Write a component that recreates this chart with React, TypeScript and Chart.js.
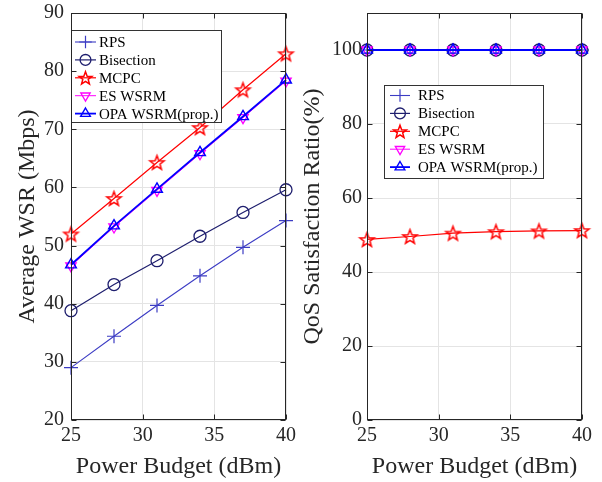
import React, { useEffect, useRef } from 'react';
import { Chart, registerables } from 'chart.js';

Chart.register(...registerables);

// ---------- data ----------
const xValues = [25, 28, 31, 34, 37, 40];
const seriesNames = ['RPS', 'Bisection', 'MCPC', 'ES WSRM', 'OPA WSRM(prop.)'];

const wsrRPS = [29.0, 34.4, 39.7, 44.8, 49.7, 54.3];
const wsrBisection = [38.8, 43.3, 47.4, 51.6, 55.7, 59.6];
const wsrMCPC = [52.0, 58.1, 64.3, 70.3, 76.8, 83.0];
const wsrES = [46.5, 53.2, 59.5, 65.8, 72.0, 78.3];
const wsrOPA = [46.7, 53.4, 59.7, 66.0, 72.2, 78.5];

const qosRPS = [100, 100, 100, 100, 100, 100];
const qosBisection = [100, 100, 100, 100, 100, 100];
const qosMCPC = [48.8, 49.6, 50.5, 50.9, 51.1, 51.2];
const qosES = [100, 100, 100, 100, 100, 100];
const qosOPA = [100, 100, 100, 100, 100, 100];

const xTickValues = [25, 30, 35, 40];
const wsrTickValues = [20, 30, 40, 50, 60, 70, 80, 90];
const qosTickValues = [0, 20, 40, 60, 80, 100];

// ---------- styles ----------
const FONT = '"Liberation Serif", "DejaVu Serif", serif';
const AXIS_COLOR = '#262626';
const GRID_COLOR = '#e4e4e4';

type MarkerKind = 'plus' | 'circle' | 'star' | 'triDown' | 'triUp';

const seriesStyles: { color: string; marker: MarkerKind; r: number; mlw: number; lw: number; order: number }[] = [
  { color: '#3c3cc4', marker: 'plus', r: 7, mlw: 1.2, lw: 1.1, order: 5 },
  { color: '#1e1e6e', marker: 'circle', r: 6, mlw: 1.3, lw: 1.2, order: 4 },
  { color: '#ff0000', marker: 'star', r: 7.5, mlw: 1.5, lw: 1.2, order: 3 },
  { color: '#ff00ff', marker: 'triDown', r: 6, mlw: 1.3, lw: 1, order: 2 },
  { color: '#0000ff', marker: 'triUp', r: 6.2, mlw: 1.4, lw: 1.8, order: 1 },
];

function markerPath(ctx: CanvasRenderingContext2D, kind: MarkerKind, x: number, y: number, r: number) {
  ctx.beginPath();
  if (kind === 'plus') {
    ctx.moveTo(x - r, y);
    ctx.lineTo(x + r, y);
    ctx.moveTo(x, y - r);
    ctx.lineTo(x, y + r);
  } else if (kind === 'circle') {
    ctx.arc(x, y, r, 0, Math.PI * 2);
  } else if (kind === 'star') {
    for (let i = 0; i < 10; i++) {
      const a = -Math.PI / 2 + (i * Math.PI) / 5;
      const rr = i % 2 === 0 ? r : r * 0.42;
      const px = x + Math.cos(a) * rr;
      const py = y + Math.sin(a) * rr + r * 0.1;
      if (i === 0) ctx.moveTo(px, py);
      else ctx.lineTo(px, py);
    }
    ctx.closePath();
  } else if (kind === 'triUp') {
    ctx.moveTo(x, y - r);
    ctx.lineTo(x + r * 0.87, y + r * 0.5);
    ctx.lineTo(x - r * 0.87, y + r * 0.5);
    ctx.closePath();
  } else {
    ctx.moveTo(x, y + r);
    ctx.lineTo(x + r * 0.87, y - r * 0.5);
    ctx.lineTo(x - r * 0.87, y - r * 0.5);
    ctx.closePath();
  }
}

function makeStarImage(color: string, r: number, lw: number): HTMLCanvasElement {
  const size = Math.ceil(2 * r + lw + 4);
  const c = document.createElement('canvas');
  c.width = size;
  c.height = size;
  const ctx = c.getContext('2d')!;
  ctx.strokeStyle = color;
  ctx.lineWidth = lw;
  markerPath(ctx, 'star', size / 2, size / 2, r);
  ctx.stroke();
  return c;
}

const decorPlugin = {
  id: 'matlabDecor',
  afterDraw(chart: any, _args: any, opts: any) {
    const { ctx, chartArea: a } = chart;
    ctx.save();
    // legend
    const lg = opts.legend;
    if (lg) {
      ctx.fillStyle = '#ffffff';
      ctx.fillRect(lg.x, lg.y, lg.w, lg.h);
      ctx.strokeStyle = '#333333';
      ctx.lineWidth = 1;
      ctx.strokeRect(lg.x + 0.5, lg.y + 0.5, lg.w, lg.h);
      chart.data.datasets.forEach((ds: any, i: number) => {
        const st = seriesStyles[i];
        const y = lg.rowY + i * lg.rowH;
        ctx.strokeStyle = ds.borderColor;
        ctx.lineWidth = ds.borderWidth;
        ctx.beginPath();
        ctx.moveTo(lg.lineX0, y);
        ctx.lineTo(lg.lineX1, y);
        ctx.stroke();
        const mx = (lg.lineX0 + lg.lineX1) / 2;
        ctx.lineWidth = st.mlw;
        markerPath(ctx, st.marker, mx, y, st.r * 0.9);
        ctx.stroke();
        ctx.fillStyle = '#000000';
        ctx.font = `15px ${FONT}`;
        ctx.textBaseline = 'middle';
        ctx.textAlign = 'left';
        ctx.fillText(ds.label, lg.textX, y + 1);
      });
    }
    // box + inward ticks
    ctx.strokeStyle = AXIS_COLOR;
    ctx.lineWidth = 1;
    const L = Math.round(a.left) + 0.5;
    const R = Math.round(a.right) - 0.5;
    const T = Math.round(a.top) + 0.5;
    const B = Math.round(a.bottom) - 0.5;
    ctx.beginPath();
    const xs = chart.scales.x;
    xs.ticks.forEach((t: any) => {
      const px = Math.round(xs.getPixelForValue(t.value)) + 0.5;
      ctx.moveTo(px, B);
      ctx.lineTo(px, B - 5);
      ctx.moveTo(px, T);
      ctx.lineTo(px, T + 5);
    });
    const ys = chart.scales.y;
    ys.ticks.forEach((t: any) => {
      const py = Math.round(ys.getPixelForValue(t.value)) + 0.5;
      ctx.moveTo(L, py);
      ctx.lineTo(L + 5, py);
      ctx.moveTo(R, py);
      ctx.lineTo(R - 5, py);
    });
    ctx.stroke();
    ctx.strokeRect(L, T, R - L, B - T);
    ctx.restore();
  },
};

function pointStyleFor(kind: MarkerKind, star: HTMLCanvasElement): any {
  if (kind === 'plus') return 'cross';
  if (kind === 'circle') return 'circle';
  if (kind === 'star') return star;
  return 'triangle';
}

function buildConfig(
  values: number[][],
  yTicks: number[],
  yMin: number,
  yMax: number,
  yTitle: string,
  yWidth: number,
  yTitlePad: number,
  yLabelPad: number,
  padRight: number,
  legend: any,
  star: HTMLCanvasElement
): any {
  const datasets = values.map((vals, i) => {
    const st = seriesStyles[i];
    return {
      label: seriesNames[i],
      data: xValues.map((x, j) => ({ x, y: vals[j] })),
      borderColor: st.color,
      backgroundColor: 'rgba(0,0,0,0)',
      borderWidth: st.lw,
      pointStyle: pointStyleFor(st.marker, star),
      pointRotation: st.marker === 'triDown' ? 180 : 0,
      pointRadius: st.r,
      pointHoverRadius: st.r,
      pointBorderColor: st.color,
      pointBackgroundColor: 'rgba(0,0,0,0)',
      pointBorderWidth: st.mlw,
      tension: 0,
      fill: false,
      clip: false,
      order: st.order,
    };
  });
  return {
    type: 'line',
    data: { datasets },
    plugins: [decorPlugin],
    options: {
      responsive: false,
      animation: false,
      events: [],
      layout: { padding: { left: 0, right: padRight, top: 13, bottom: 0 } },
      plugins: {
        legend: { display: false },
        tooltip: { enabled: false },
        matlabDecor: { legend },
      },
      scales: {
        x: {
          type: 'linear',
          min: 25,
          max: 40,
          afterBuildTicks: (s: any) => {
            s.ticks = xTickValues.map((v) => ({ value: v }));
          },
          afterFit: (s: any) => {
            s.height = 62;
            s.paddingLeft = 0;
            s.paddingRight = 0;
          },
          grid: { color: GRID_COLOR, drawTicks: false, lineWidth: 1 },
          border: { display: false },
          ticks: {
            padding: 4,
            color: AXIS_COLOR,
            font: { family: FONT, size: 20 },
            maxRotation: 0,
            autoSkip: false,
          },
          title: {
            display: true,
            text: 'Power Budget (dBm)',
            color: AXIS_COLOR,
            font: { family: FONT, size: 24 },
            padding: { top: 0, bottom: 1 },
          },
        },
        y: {
          type: 'linear',
          min: yMin,
          max: yMax,
          afterBuildTicks: (s: any) => {
            s.ticks = yTicks.map((v) => ({ value: v }));
          },
          afterFit: (s: any) => {
            s.width = yWidth;
            s.paddingTop = 0;
            s.paddingBottom = 0;
          },
          grid: { color: GRID_COLOR, drawTicks: false, lineWidth: 1 },
          border: { display: false },
          ticks: {
            padding: yLabelPad,
            color: AXIS_COLOR,
            font: { family: FONT, size: 20 },
            autoSkip: false,
          },
          title: {
            display: true,
            text: yTitle,
            color: AXIS_COLOR,
            font: { family: FONT, size: 24 },
            padding: { top: yTitlePad, bottom: 0 },
          },
        },
      },
    },
  };
}

export default function App() {
  const leftRef = useRef<HTMLCanvasElement>(null);
  const rightRef = useRef<HTMLCanvasElement>(null);

  useEffect(() => {
    const star = makeStarImage(seriesStyles[2].color, seriesStyles[2].r, seriesStyles[2].mlw);
    const left = new Chart(
      leftRef.current!,
      buildConfig(
        [wsrRPS, wsrBisection, wsrMCPC, wsrES, wsrOPA],
        wsrTickValues,
        20,
        90,
        'Average WSR (Mbps)',
        71,
        13,
        7,
        14,
        { x: 71, y: 30, w: 150, h: 92, rowY: 42, rowH: 17.9, lineX0: 75, lineX1: 96, textX: 99 },
        star
      )
    );
    const right = new Chart(
      rightRef.current!,
      buildConfig(
        [qosRPS, qosBisection, qosMCPC, qosES, qosOPA],
        qosTickValues,
        0,
        110,
        'QoS Satisfaction Ratio(%)',
        69,
        0,
        5,
        20,
        { x: 86, y: 85, w: 159, h: 93, rowY: 95.5, rowH: 17.9, lineX0: 92, lineX1: 112, textX: 120 },
        star
      )
    );
    return () => {
      left.destroy();
      right.destroy();
    };
  }, []);

  return (
    <div style={{ position: 'fixed', left: 0, top: 0, width: 602, height: 482, background: '#ffffff' }}>
      <div style={{ position: 'absolute', left: 0, top: 0, width: 300, height: 482 }}>
        <canvas ref={leftRef} width={300} height={482} />
      </div>
      <div style={{ position: 'absolute', left: 298, top: 0, width: 304, height: 482 }}>
        <canvas ref={rightRef} width={304} height={482} />
      </div>
    </div>
  );
}
